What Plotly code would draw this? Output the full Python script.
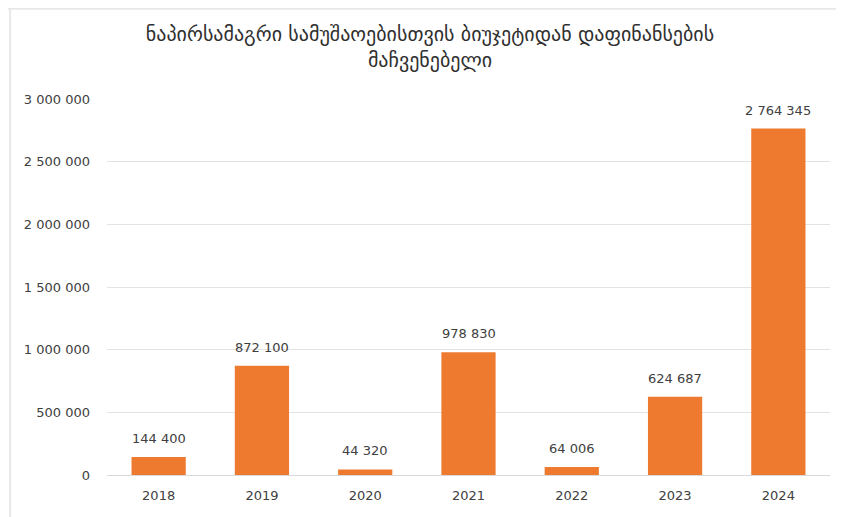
import plotly.graph_objects as go

years = ["2018", "2019", "2020", "2021", "2022", "2023", "2024"]
values = [144400, 872100, 44320, 978830, 64006, 624687, 2764345]
tick_vals = [0, 500000, 1000000, 1500000, 2000000, 2500000, 3000000]
tick_text = ["0", "500 000", "1 000 000", "1 500 000", "2 000 000", "2 500 000", "3 000 000"]
labels = ["144 400", "872 100", "44 320", "978 830", "64 006", "624 687", "2 764 345"]
title = "ნაპირსამაგრი სამუშაოებისთვის ბიუჯეტიდან დაფინანსების<br>მაჩვენებელი"

num_font = "DejaVu Sans, Liberation Sans, Arial"

fig = go.Figure(go.Bar(
    x=years, y=values,
    marker=dict(color="#EE7A30", line=dict(width=0)),
))

# value labels above each bar (category index positions)
for i, (v, lab) in enumerate(zip(values, labels)):
    fig.add_annotation(x=i, y=v, text=lab, showarrow=False, yanchor="bottom",
                       yshift=9, font=dict(size=13, color="#404040", family=num_font))

fig.update_layout(
    width=844, height=517,
    paper_bgcolor="white", plot_bgcolor="white",
    margin=dict(l=99, r=22, t=91, b=50, autoexpand=False),
    bargap=0.475,
    showlegend=False,
    title=dict(text=title, x=0.5, xanchor="center", y=0.937, yanchor="top",
               font=dict(size=20, color="#303030", family="DejaVu Sans")),
    font=dict(family=num_font, color="#595959"),
    xaxis=dict(type="category", range=[-0.5, len(years) - 0.5],
               showgrid=False, showline=True, linecolor="#D9D9D9", linewidth=1,
               ticks="", ticklabelstandoff=8, tickfont=dict(size=13, color="#404040")),
    yaxis=dict(range=[0, 3000000], tickvals=tick_vals, ticktext=tick_text,
               showgrid=True, gridcolor="#E3E3E3", gridwidth=1, zeroline=False,
               ticks="", ticklabelstandoff=16, tickfont=dict(size=13, color="#404040")),
    shapes=[
        dict(type="line", xref="paper", yref="paper", x0=-0.14, x1=1.04, y0=1.240, y1=1.240,
             line=dict(color="#E8E8E8", width=2)),
        dict(type="line", xref="paper", yref="paper", x0=-0.134, x1=-0.134, y0=-0.14, y1=1.24,
             line=dict(color="#E8E8E8", width=2)),
    ],
)

fig.write_html("out.html")
